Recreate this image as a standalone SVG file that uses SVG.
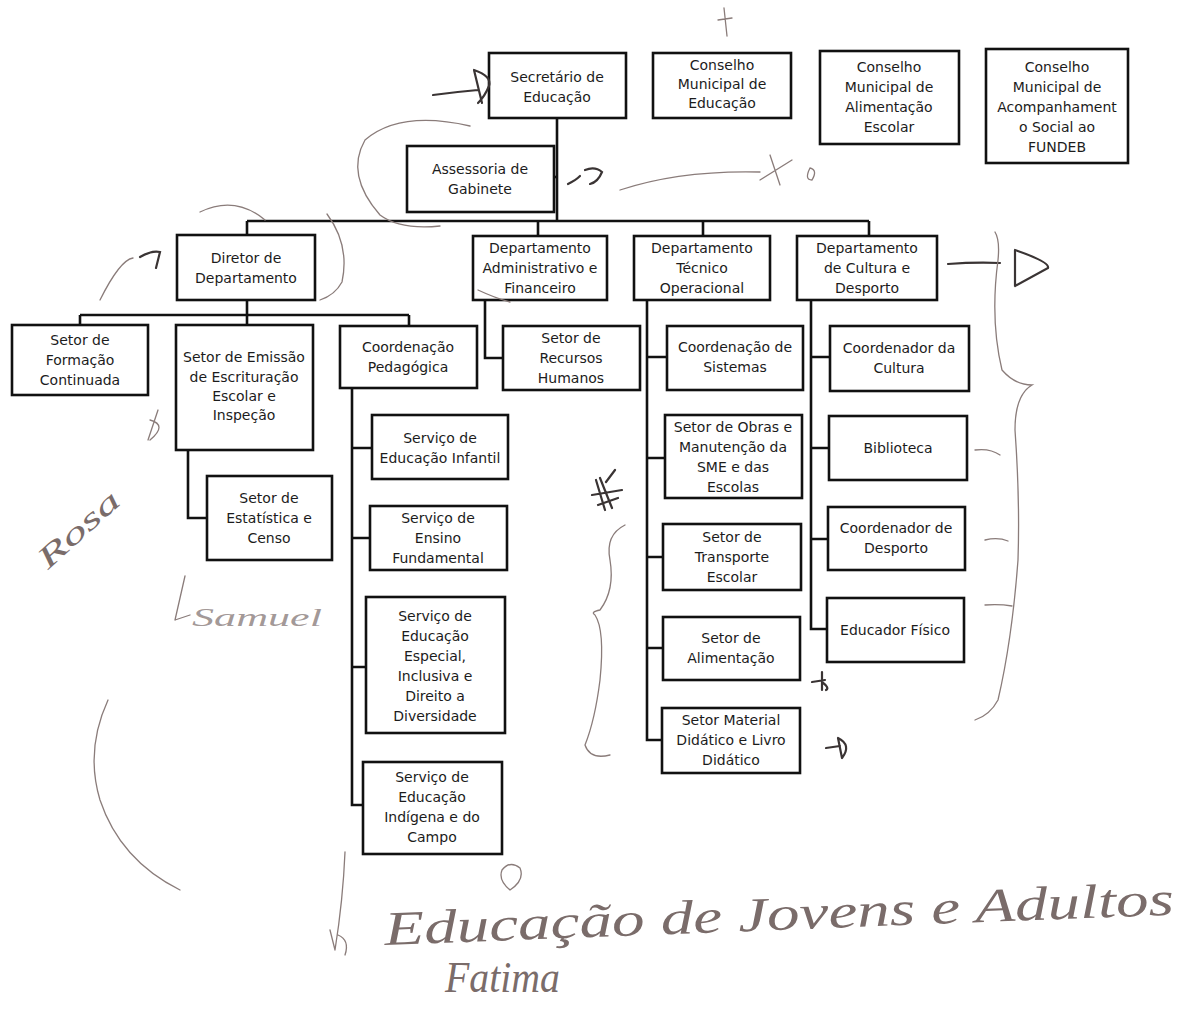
<svg xmlns="http://www.w3.org/2000/svg" width="1195" height="1011" viewBox="0 0 1195 1011">
<style>
.box{fill:#fff;stroke:#111;stroke-width:2.6}
.t{font-family:"DejaVu Sans",Verdana,sans-serif;font-size:14px;fill:#1c1c1c;text-anchor:middle}
.c{fill:none;stroke:#111;stroke-width:2.6}
.hw{fill:none;stroke:#8a7c7a;stroke-width:1.3;stroke-linecap:round}
.hd{fill:none;stroke:#3a3434;stroke-width:2.2;stroke-linecap:round}
.ht{font-family:"Liberation Serif","DejaVu Serif",serif;font-style:italic;fill:#7a6c6a}
</style>
<rect width="1195" height="1011" fill="#fff"/>

<g id="connectors">
<path class="c" d="M557 118V221"/>
<path class="c" d="M554 177H557"/>
<path class="c" d="M247 221H869"/>
<path class="c" d="M247 221V235M538 221V236M703 221V236M869 221V236"/>
<path class="c" d="M247 300V315M80 315H409M80 315V325M247 315V325M409 315V326"/>
<path class="c" d="M188 450V518H207"/>
<path class="c" d="M352 388V805H363M352 448H372M352 538H370M352 667H366"/>
<path class="c" d="M485 300V358H503"/>
<path class="c" d="M647 300V740H662M647 357H667M647 458H665M647 557H663M647 648H663"/>
<path class="c" d="M811 300V629H827M811 357H830M811 448H829M811 539H828"/>
</g>

<g id="sec"><rect class="box" x="489" y="53" width="137" height="65"/><text class="t" x="557" y="82">Secretário de</text><text class="t" x="557" y="102">Educação</text></g>
<g id="cme"><rect class="box" x="653" y="53" width="138" height="65"/><text class="t" x="722" y="70">Conselho</text><text class="t" x="722" y="89">Municipal de</text><text class="t" x="722" y="108">Educação</text></g>
<g id="cmae"><rect class="box" x="820" y="51" width="139" height="93"/><text class="t" x="889" y="72">Conselho</text><text class="t" x="889" y="92">Municipal de</text><text class="t" x="889" y="112">Alimentação</text><text class="t" x="889" y="132">Escolar</text></g>
<g id="fundeb"><rect class="box" x="986" y="49" width="142" height="114"/><text class="t" x="1057" y="72">Conselho</text><text class="t" x="1057" y="92">Municipal de</text><text class="t" x="1057" y="112">Acompanhament</text><text class="t" x="1057" y="132">o Social ao</text><text class="t" x="1057" y="152">FUNDEB</text></g>
<g id="ass"><rect class="box" x="407" y="146" width="147" height="66"/><text class="t" x="480" y="174">Assessoria de</text><text class="t" x="480" y="194">Gabinete</text></g>
<g id="dir"><rect class="box" x="177" y="235" width="138" height="65"/><text class="t" x="246" y="263">Diretor de</text><text class="t" x="246" y="283">Departamento</text></g>
<g id="adm"><rect class="box" x="473" y="236" width="134" height="64"/><text class="t" x="540" y="253">Departamento</text><text class="t" x="540" y="273">Administrativo e</text><text class="t" x="540" y="293">Financeiro</text></g>
<g id="tec"><rect class="box" x="634" y="236" width="136" height="64"/><text class="t" x="702" y="253">Departamento</text><text class="t" x="702" y="273">Técnico</text><text class="t" x="702" y="293">Operacional</text></g>
<g id="cul"><rect class="box" x="797" y="236" width="140" height="64"/><text class="t" x="867" y="253">Departamento</text><text class="t" x="867" y="273">de Cultura e</text><text class="t" x="867" y="293">Desporto</text></g>
<g id="form"><rect class="box" x="12" y="325" width="136" height="70"/><text class="t" x="80" y="345">Setor de</text><text class="t" x="80" y="365">Formação</text><text class="t" x="80" y="385">Continuada</text></g>
<g id="emi"><rect class="box" x="176" y="325" width="137" height="125"/><text class="t" x="244" y="362">Setor de Emissão</text><text class="t" x="244" y="382">de Escrituração</text><text class="t" x="244" y="401">Escolar e</text><text class="t" x="244" y="420">Inspeção</text></g>
<g id="coordped"><rect class="box" x="340" y="326" width="137" height="62"/><text class="t" x="408" y="352">Coordenação</text><text class="t" x="408" y="372">Pedagógica</text></g>
<g id="est"><rect class="box" x="207" y="476" width="125" height="84"/><text class="t" x="269" y="503">Setor de</text><text class="t" x="269" y="523">Estatística e</text><text class="t" x="269" y="543">Censo</text></g>
<g id="sei"><rect class="box" x="372" y="415" width="136" height="64"/><text class="t" x="440" y="443">Serviço de</text><text class="t" x="440" y="463">Educação Infantil</text></g>
<g id="sef"><rect class="box" x="370" y="506" width="137" height="64"/><text class="t" x="438" y="523">Serviço de</text><text class="t" x="438" y="543">Ensino</text><text class="t" x="438" y="563">Fundamental</text></g>
<g id="see"><rect class="box" x="366" y="597" width="139" height="136"/><text class="t" x="435" y="621">Serviço de</text><text class="t" x="435" y="641">Educação</text><text class="t" x="435" y="661">Especial,</text><text class="t" x="435" y="681">Inclusiva e</text><text class="t" x="435" y="701">Direito a</text><text class="t" x="435" y="721">Diversidade</text></g>
<g id="sein"><rect class="box" x="363" y="762" width="139" height="92"/><text class="t" x="432" y="782">Serviço de</text><text class="t" x="432" y="802">Educação</text><text class="t" x="432" y="822">Indígena e do</text><text class="t" x="432" y="842">Campo</text></g>
<g id="rh"><rect class="box" x="503" y="326" width="137" height="64"/><text class="t" x="571" y="343">Setor de</text><text class="t" x="571" y="363">Recursos</text><text class="t" x="571" y="383">Humanos</text></g>
<g id="sis"><rect class="box" x="667" y="326" width="136" height="64"/><text class="t" x="735" y="352">Coordenação de</text><text class="t" x="735" y="372">Sistemas</text></g>
<g id="obr"><rect class="box" x="665" y="415" width="137" height="83"/><text class="t" x="733" y="432">Setor de Obras e</text><text class="t" x="733" y="452">Manutenção da</text><text class="t" x="733" y="472">SME e das</text><text class="t" x="733" y="492">Escolas</text></g>
<g id="tra"><rect class="box" x="663" y="524" width="138" height="66"/><text class="t" x="732" y="542">Setor de</text><text class="t" x="732" y="562">Transporte</text><text class="t" x="732" y="582">Escolar</text></g>
<g id="ali"><rect class="box" x="663" y="617" width="137" height="63"/><text class="t" x="731" y="643">Setor de</text><text class="t" x="731" y="663">Alimentação</text></g>
<g id="mat"><rect class="box" x="662" y="708" width="138" height="65"/><text class="t" x="731" y="725">Setor Material</text><text class="t" x="731" y="745">Didático e Livro</text><text class="t" x="731" y="765">Didático</text></g>
<g id="ccu"><rect class="box" x="830" y="326" width="139" height="65"/><text class="t" x="899" y="353">Coordenador da</text><text class="t" x="899" y="373">Cultura</text></g>
<g id="bib"><rect class="box" x="829" y="416" width="138" height="64"/><text class="t" x="898" y="453">Biblioteca</text></g>
<g id="cde"><rect class="box" x="828" y="507" width="137" height="63"/><text class="t" x="896" y="533">Coordenador de</text><text class="t" x="896" y="553">Desporto</text></g>
<g id="edf"><rect class="box" x="827" y="598" width="137" height="64"/><text class="t" x="895" y="635">Educador Físico</text></g>

<g id="annotations">
<path class="hd" d="M433 95Q455 92 478 90M474 70L482 103M474 70Q492 76 489 86Q485 96 478 103"/>
<path class="hw" d="M724 8L727 36M718 20L732 18"/>
<path class="hw" d="M470 126Q400 110 365 140Q345 175 380 215Q400 230 440 226"/>
<path class="hd" d="M568 184Q576 180 580 176M585 170Q595 166 602 172Q598 182 590 184"/>
<path class="hw" d="M620 190Q680 170 760 172M770 155L780 185M760 180L792 160"/>
<path class="hw" d="M810 168Q818 170 812 180Q804 180 810 168"/>
<path class="hd" d="M140 257Q152 250 160 252L156 268"/>
<path class="hw" d="M200 212Q235 195 265 220M327 214Q350 245 342 282Q335 295 320 300"/>
<path class="hw" d="M478 290Q495 298 510 302"/>
<path class="hd" d="M948 264Q975 262 1000 263"/>
<path class="hd" d="M1015 250L1015 286M1015 250Q1050 262 1048 268L1015 286"/>
<path class="hw" d="M995 232Q1000 240 998 260Q990 320 1002 370Q1015 385 1032 385Q1015 395 1015 430Q1020 500 1018 560Q1012 640 998 700Q990 715 975 720"/>
<path class="hw" d="M975 450Q990 448 1000 455M985 540Q998 537 1008 541M985 605Q1000 604 1012 606"/>
<path class="hd" d="M596 480L605 510M600 478L612 508M592 495L622 490M606 482L615 470M598 505L618 498"/>
<path class="hw" d="M625 525Q605 535 610 560Q615 590 600 610Q590 612 595 615Q605 630 600 680Q595 720 585 745Q590 760 610 755"/>
<path class="hd" d="M812 682L825 680M822 672L822 690M822 682Q830 688 826 690"/>
<path class="hd" d="M826 748L840 746M838 738L842 758M838 738Q852 745 842 758"/>
<path class="hw" d="M133 258Q120 260 100 300"/>
<path class="hw" d="M108 700Q85 750 100 800Q120 860 180 890"/>
<path class="hw" d="M148 440L158 410M150 420Q168 425 150 440"/>
<path class="hw" d="M345 852Q343 900 335 950M335 950L330 930M338 935Q350 940 345 955"/>
<path class="hw" d="M502 870Q510 860 520 868Q525 880 510 890Q498 880 502 870"/>
<path class="hw" d="M185 576L175 620M175 620L190 615"/>
<text class="ht" font-size="30" x="48" y="570" textLength="100" lengthAdjust="spacingAndGlyphs" transform="rotate(-42 48 570)">Rosa</text>
<text class="ht" font-size="26" x="192" y="626" textLength="130" lengthAdjust="spacingAndGlyphs" fill-opacity="0.7">Samuel</text>
<text class="ht" font-size="48" x="385" y="945" textLength="790" lengthAdjust="spacingAndGlyphs" transform="rotate(-2.2 385 945)">Educação de Jovens e Adultos</text>
<text class="ht" font-size="44" x="445" y="992" textLength="115" lengthAdjust="spacingAndGlyphs">Fatima</text>
</g>
</svg>
